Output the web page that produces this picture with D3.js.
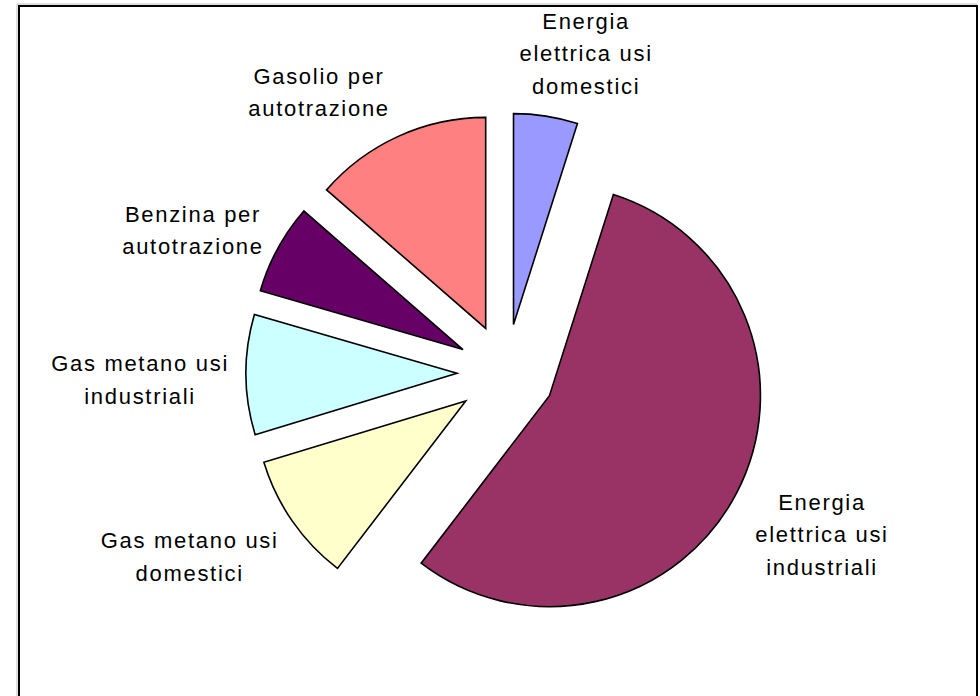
<!DOCTYPE html>
<html lang="it">
<head>
<meta charset="UTF-8">
<title>Consumi energetici</title>
<script src="https://d3js.org/d3.v7.min.js"></script>
<style>
  body { margin: 0; padding: 0; background: #fff; }
  svg { display: block; }
  .label {
    font-family: Arial, "Liberation Sans", sans-serif;
    font-size: 22px;
    letter-spacing: 1.7px;
    fill: #000;
    text-anchor: middle;
  }
</style>
</head>
<body>
<svg width="980" height="696"></svg>
<script>
  // categories, clockwise from 12 o'clock
  const categories = [
    ["Energia", "elettrica usi", "domestici"],
    ["Energia", "elettrica usi", "industriali"],
    ["Gas metano usi", "domestici"],
    ["Gas metano usi", "industriali"],
    ["Benzina per", "autotrazione"],
    ["Gasolio per", "autotrazione"]
  ];
  // share of total (%)
  const values = [4.9, 55.5, 9.9, 9.2, 6.9, 13.6];
  const colors = ["#9999FF", "#993366", "#FFFFCC", "#CCFFFF", "#660066", "#FF8080"];

  // label placement: [angle in degrees clockwise from north, distance from pie centre]
  const labelPolar = [[14.1, 329], [117.1, 355], [239.8, 366], [268.9, 366], [294.5, 344], [326.3, 337]];

  const svg = d3.select("svg");
  const cx = 506, cy = 373;
  const radius = 211;
  const explode = 49;
  const lineHeight = 32.5;

  // chart frame (runs off the bottom of the picture)
  svg.append("path")
    .attr("d", "M17,700 V4 H977")
    .attr("fill", "none")
    .attr("stroke", "#c0c0c0")
    .attr("stroke-width", 1);
  svg.append("rect")
    .attr("x", 19).attr("y", 6)
    .attr("width", 958).attr("height", 720)
    .attr("fill", "none")
    .attr("stroke", "#000")
    .attr("stroke-width", 2);

  const pie = d3.pie().sort(null).value(d => d);
  const arcs = pie(values);
  const arc = d3.arc().innerRadius(0).outerRadius(radius);

  const g = svg.append("g").attr("transform", `translate(${cx},${cy})`);

  // exploded slices, each pushed out along its bisector
  g.selectAll("path.slice")
    .data(arcs)
    .enter()
    .append("path")
    .attr("class", "slice")
    .attr("d", arc)
    .attr("transform", d => {
      const p = d3.pointRadial((d.startAngle + d.endAngle) / 2, explode);
      return `translate(${p[0]},${p[1]})`;
    })
    .attr("fill", (d, i) => colors[i])
    .attr("stroke", "#000")
    .attr("stroke-width", 1.6)
    .attr("stroke-linejoin", "miter");

  // data labels
  const labels = g.selectAll("text.label")
    .data(categories)
    .enter()
    .append("text")
    .attr("class", "label")
    .attr("transform", (d, i) => {
      const p = d3.pointRadial(labelPolar[i][0] * Math.PI / 180, labelPolar[i][1]);
      return `translate(${p[0]},${p[1]})`;
    });

  labels.each(function (lines) {
    const t = d3.select(this);
    const first = -(lines.length - 1) * lineHeight / 2 + 7.5;
    lines.forEach((line, j) => {
      t.append("tspan")
        .attr("x", 0)
        .attr("y", first + j * lineHeight)
        .text(line);
    });
  });
</script>
</body>
</html>
